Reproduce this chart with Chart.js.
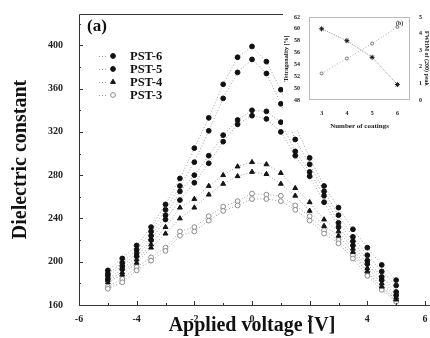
<!DOCTYPE html>
<html>
<head>
<meta charset="utf-8">
<script src="https://cdn.jsdelivr.net/npm/chart.js@4.4.1/dist/chart.umd.min.js"></script>
<style>
  body { margin: 0; background: #fff; }
  #wrap { position: relative; width: 430px; height: 338px; }
  #mainChart { position: absolute; left: 0; top: 0; }
  #insetChart { position: absolute; left: 283px; top: 8px; }
</style>
</head>
<body>
<div id="wrap">
  <canvas id="mainChart" width="430" height="338"></canvas>
  <canvas id="insetChart" width="147" height="122"></canvas>
</div>
<script>
// applied voltage steps [V]
var voltages = [-5, -4.5, -4, -3.5, -3, -2.5, -2, -1.5, -1, -0.5, 0, 0.5, 1, 1.5, 2, 2.5, 3, 3.5, 4, 4.5, 5];

// dielectric constant, two sweeps per film
var pst6Hi = [192, 203, 215, 232, 253, 277, 305, 333, 364, 389, 399, 385, 359, 326, 296, 270, 250, 230, 213, 197, 183];
var pst6Lo = [189, 199, 211, 228, 248, 270, 292, 321, 351, 375, 387, 374, 346, 313, 290, 265, 243, 223, 206, 191, 178];
var pst5Hi = [187, 196, 208, 224, 243, 265, 280, 298, 317, 331, 340, 339, 329, 302, 283, 261, 236, 219, 201, 186, 172];
var pst5Lo = [184, 193, 205, 220, 239, 257, 273, 291, 311, 327, 335, 332, 320, 298, 279, 255, 232, 215, 198, 183, 169];
var pst4Hi = [183, 190, 202, 216, 232, 250, 258, 270, 280, 288, 292, 290, 282, 268, 255, 239, 228, 212, 194, 180, 167];
var pst4Lo = [181, 188, 199, 213, 226, 240, 250, 262, 272, 279, 283, 281, 272, 261, 247, 233, 224, 209, 191, 177, 165];
var pst3Hi = [177, 184, 195, 204, 213, 228, 232, 242, 251, 256, 263, 262, 261, 252, 242, 229, 220, 206, 190, 176, 164];
var pst3Lo = [175, 181, 192, 201, 210, 224, 228, 238, 247, 252, 258, 258, 256, 248, 238, 226, 217, 203, 187, 174, 163];

var seriesNames = ["PST-6", "PST-5", "PST-4", "PST-3"];
var xTicks = [-6, -4, -2, 0, 2, 4, 6];
var yTicks = [160, 200, 240, 280, 320, 360, 400];

// inset
var insetLayers = [3, 4, 5, 6];
var insetLeft = [60, 58, 55.2, 50.6];
var insetRight = [1.6, 2.5, 3.4, 4.4];
var insetLeftTicks = [48, 50, 52, 54, 56, 58, 60, 62];
var insetRightTicks = [0, 1, 2, 3, 4, 5];

var serif = "'Liberation Serif', 'DejaVu Serif', serif";

function loop(hi, lo) {
    var pts = [];
    for (var i = 0; i < voltages.length; i++) pts.push({x: voltages[i], y: hi[i]});
    for (var j = voltages.length - 1; j >= 0; j--) pts.push({x: voltages[j], y: lo[j]});
    return pts;
}

function keepTicks(list) {
    return function(scale) {
        scale.ticks = list.map(function(v) { return {value: v}; });
    };
}

var styles = [
    {pointStyle: 'circle', bg: '#111', border: '#111', radius: 2.4},
    {pointStyle: 'circle', bg: '#111', border: '#111', radius: 2.4},
    {pointStyle: 'triangle', bg: '#151515', border: '#151515', radius: 2.8},
    {pointStyle: 'circle', bg: '#fff', border: '#8a8a8a', radius: 2.4}
];
var loops = [loop(pst6Hi, pst6Lo), loop(pst5Hi, pst5Lo), loop(pst4Hi, pst4Lo), loop(pst3Hi, pst3Lo)];

var datasets = [];
for (var k = 0; k < 4; k++) {
    datasets.push({
        label: seriesNames[k],
        data: loops[k],
        pointStyle: styles[k].pointStyle,
        pointRadius: styles[k].radius,
        pointBackgroundColor: styles[k].bg,
        pointBorderColor: styles[k].border,
        pointBorderWidth: 1,
        borderColor: '#a0a0a0',
        borderWidth: 1,
        borderDash: [1, 2],
        fill: false,
        tension: 0
    });
}

// frame, inward ticks, legend and panel label
var decor = {
    id: 'decor',
    afterDraw: function(chart) {
        var ctx = chart.ctx, a = chart.chartArea;
        var xs = chart.scales.x, ys = chart.scales.y;
        ctx.save();
        ctx.strokeStyle = '#333';
        ctx.lineWidth = 1;
        ctx.beginPath();
        ctx.moveTo(430, a.top + 0.5); ctx.lineTo(a.left + 0.5, a.top + 0.5);
        ctx.lineTo(a.left + 0.5, a.bottom + 0.5); ctx.lineTo(430, a.bottom + 0.5);
        for (var v = -6; v <= 6; v += 1) {
            var px = Math.round(xs.getPixelForValue(v)) + 0.5;
            var len = (v % 2 === 0) ? 4 : 2;
            ctx.moveTo(px, a.bottom); ctx.lineTo(px, a.bottom - len);
        }
        for (var w = 160; w <= 420; w += 20) {
            var py = Math.round(ys.getPixelForValue(w)) + 0.5;
            var l2 = (w % 40 === 0) ? 4 : 2;
            ctx.moveTo(a.left, py); ctx.lineTo(a.left + l2, py);
        }
        ctx.stroke();

        // panel label
        ctx.fillStyle = '#111';
        ctx.font = "bold 17px " + serif;
        ctx.textBaseline = 'middle';
        ctx.fillText("(a)", 87, 27);

        // legend
        var rows = [56, 69, 82, 95];
        ctx.font = "bold 12.5px " + serif;
        for (var i = 0; i < 4; i++) {
            var y = rows[i];
            ctx.strokeStyle = '#a0a0a0';
            ctx.setLineDash([1, 2]);
            ctx.beginPath(); ctx.moveTo(99, y + 0.5); ctx.lineTo(108, y + 0.5); ctx.stroke();
            ctx.setLineDash([]);
            var ds = chart.data.datasets[i];
            ctx.fillStyle = ds.pointBackgroundColor;
            ctx.strokeStyle = ds.pointBorderColor;
            Chart.helpers.drawPoint(ctx, {pointStyle: ds.pointStyle, radius: ds.pointRadius, borderWidth: 1}, 113, y);
            ctx.fillStyle = '#111';
            ctx.fillText(ds.label, 130, y + 1);
        }
        ctx.restore();
    }
};

new Chart(document.getElementById('mainChart'), {
    type: 'line',
    data: {datasets: datasets},
    options: {
        responsive: false,
        animation: false,
        layout: {padding: {top: 6, right: 0, left: 0, bottom: 0}},
        plugins: {legend: {display: false}, tooltip: {enabled: false}},
        scales: {
            x: {
                type: 'linear', min: -6, max: 6,
                afterBuildTicks: keepTicks(xTicks),
                afterFit: function(s) { s.height = 33; },
                grid: {display: false},
                border: {display: false},
                ticks: {color: '#222', font: {family: serif, size: 10, weight: 'bold'}, padding: 0},
                title: {display: true, text: 'Applied voltage [V]', color: '#111',
                        font: {family: serif, size: 20, weight: 'bold'}, padding: {top: -3, bottom: 0}}
            },
            y: {
                min: 160, max: 429,
                afterBuildTicks: keepTicks(yTicks),
                afterFit: function(s) { s.width = 79; },
                grid: {display: false},
                border: {display: false},
                ticks: {color: '#222', font: {family: serif, size: 10, weight: 'bold'}, padding: 8},
                title: {display: true, text: 'Dielectric constant', color: '#111',
                        font: {family: serif, size: 20, weight: 'bold'}, padding: {top: 9, bottom: 0}}
            }
        }
    },
    plugins: [decor]
});

// inset chart
var insetFrame = {
    id: 'insetFrame',
    beforeDraw: function(chart) {
        var ctx = chart.ctx;
        ctx.save();
        ctx.fillStyle = '#fff';
        ctx.fillRect(0, 0, chart.width, chart.height);
        ctx.restore();
    },
    afterDraw: function(chart) {
        var ctx = chart.ctx, a = chart.chartArea;
        ctx.save();
        ctx.strokeStyle = '#777';
        ctx.setLineDash([1, 1]);
        ctx.strokeRect(a.left + 0.5, a.top + 0.5, a.right - a.left - 1, a.bottom - a.top - 1);
        ctx.setLineDash([]);
        ctx.fillStyle = '#333';
        ctx.font = "bold 6px " + serif;
        ctx.fillText("(b)", a.right - 14, a.top + 8);
        ctx.restore();
    }
};

var small = {family: serif, size: 6, weight: 'bold'};
new Chart(document.getElementById('insetChart'), {
    type: 'line',
    data: {
        labels: insetLayers,
        datasets: [
            {data: insetLeft, yAxisID: 'y', borderColor: '#999', borderWidth: 1, borderDash: [1, 1],
             pointStyle: 'star', pointRadius: 2.5, pointBorderColor: '#111', pointBackgroundColor: '#111'},
            {data: insetRight, yAxisID: 'y1', borderColor: '#aaa', borderWidth: 1, borderDash: [1, 2],
             pointStyle: 'circle', pointRadius: 1.5, pointBorderColor: '#777', pointBackgroundColor: '#fff'}
        ]
    },
    options: {
        responsive: false,
        animation: false,
        layout: {padding: {top: 9, right: 0, left: 0, bottom: 0}},
        plugins: {legend: {display: false}, tooltip: {enabled: false}},
        scales: {
            x: {
                type: 'linear', min: 2.5, max: 6.5,
                afterBuildTicks: keepTicks(insetLayers),
                afterFit: function(s) { s.height = 30; },
                grid: {display: false}, border: {display: false},
                ticks: {color: '#222', font: small, padding: 2},
                title: {display: true, text: 'Number of coatings', color: '#222', font: {family: serif, size: 7, weight: 'bold'}, padding: 0}
            },
            y: {
                position: 'left', min: 48, max: 62,
                afterBuildTicks: keepTicks(insetLeftTicks),
                afterFit: function(s) { s.width = 26; },
                grid: {display: false}, border: {display: false},
                ticks: {color: '#222', font: small, padding: 1},
                title: {display: true, text: 'Tetragonality [%]', color: '#222', font: {family: serif, size: 6, weight: 'bold'}, padding: 0}
            },
            y1: {
                position: 'right', min: 0, max: 5,
                afterBuildTicks: keepTicks(insetRightTicks),
                afterFit: function(s) { s.width = 20; },
                grid: {display: false}, border: {display: false},
                ticks: {color: '#222', font: small, padding: 1},
                title: {display: true, text: 'FWHM of (200) peak', color: '#222', font: {family: serif, size: 6, weight: 'bold'}, padding: 0}
            }
        }
    },
    plugins: [insetFrame]
});
</script>
</body>
</html>
